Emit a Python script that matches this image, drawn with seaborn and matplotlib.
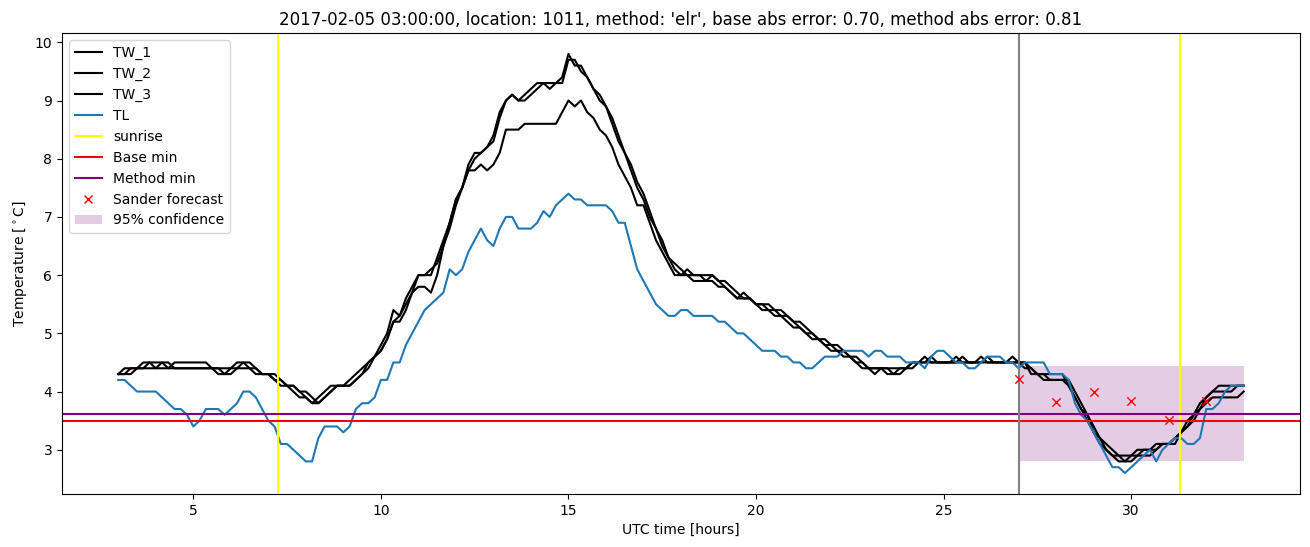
import numpy as np
import pandas as pd
import matplotlib
matplotlib.use("Agg")
import matplotlib.pyplot as plt
import seaborn as sns
from matplotlib.patches import Patch
from matplotlib.lines import Line2D

# ---------------- data ----------------
time_hours = np.linspace(3, 33, 181)   # 10-minute samples, UTC hours

TL = [
    4.2, 4.2, 4.1, 4.0, 4.0, 4.0,   # 3
    4.0, 3.9, 3.8, 3.7, 3.7, 3.6,   # 4
    3.4, 3.5, 3.7, 3.7, 3.7, 3.6,   # 5
    3.7, 3.8, 4.0, 4.0, 3.9, 3.7,   # 6
    3.5, 3.4, 3.1, 3.1, 3.0, 2.9,   # 7
    2.8, 2.8, 3.2, 3.4, 3.4, 3.4,   # 8
    3.3, 3.4, 3.7, 3.8, 3.8, 3.9,   # 9
    4.2, 4.2, 4.5, 4.5, 4.8, 5.0,   # 10
    5.2, 5.4, 5.5, 5.6, 5.7, 6.1,   # 11
    6.0, 6.1, 6.4, 6.6, 6.8, 6.6,   # 12
    6.5, 6.8, 7.0, 7.0, 6.8, 6.8,   # 13
    6.8, 6.9, 7.1, 7.0, 7.2, 7.3,   # 14
    7.4, 7.3, 7.3, 7.2, 7.2, 7.2,   # 15
    7.2, 7.1, 6.9, 6.9, 6.5, 6.1,   # 16
    5.9, 5.7, 5.5, 5.4, 5.3, 5.3,   # 17
    5.4, 5.4, 5.3, 5.3, 5.3, 5.3,   # 18
    5.2, 5.2, 5.1, 5.0, 5.0, 4.9,   # 19
    4.8, 4.7, 4.7, 4.7, 4.6, 4.6,   # 20
    4.5, 4.5, 4.4, 4.4, 4.5, 4.6,   # 21
    4.6, 4.6, 4.7, 4.7, 4.7, 4.7,   # 22
    4.6, 4.7, 4.7, 4.6, 4.6, 4.6,   # 23
    4.5, 4.5, 4.5, 4.4, 4.6, 4.7,   # 24
    4.7, 4.6, 4.5, 4.5, 4.4, 4.4,   # 25
    4.5, 4.6, 4.6, 4.6, 4.5, 4.5,   # 26
    4.4, 4.5, 4.5, 4.5, 4.5, 4.3,   # 27
    4.3, 4.3, 4.2, 3.8, 3.6, 3.5,   # 28
    3.3, 3.1, 2.9, 2.7, 2.7, 2.6,   # 29
    2.7, 2.8, 2.9, 3.0, 2.8, 3.0,   # 30
    3.1, 3.2, 3.2, 3.1, 3.1, 3.2,   # 31
    3.7, 3.7, 3.8, 4.0, 4.1, 4.1,   # 32
    4.1,
]

TW_1 = [
    4.3, 4.4, 4.4, 4.4, 4.5, 4.5,   # 3
    4.5, 4.5, 4.4, 4.5, 4.5, 4.5,   # 4
    4.5, 4.5, 4.5, 4.4, 4.4, 4.4,   # 5
    4.4, 4.5, 4.5, 4.4, 4.3, 4.3,   # 6
    4.3, 4.2, 4.1, 4.1, 4.0, 3.9,   # 7
    3.9, 3.8, 3.9, 4.0, 4.1, 4.1,   # 8
    4.1, 4.2, 4.3, 4.4, 4.5, 4.6,   # 9
    4.8, 5.0, 5.4, 5.3, 5.6, 5.8,   # 10
    6.0, 6.0, 6.0, 6.3, 6.6, 6.9,   # 11
    7.3, 7.5, 7.9, 8.1, 8.1, 8.2,   # 12
    8.4, 8.8, 9.0, 9.1, 9.0, 9.1,   # 13
    9.2, 9.3, 9.3, 9.3, 9.3, 9.4,   # 14
    9.8, 9.6, 9.6, 9.4, 9.2, 9.0,   # 15
    8.9, 8.6, 8.3, 8.1, 7.8, 7.5,   # 16
    7.3, 7.0, 6.8, 6.5, 6.3, 6.1,   # 17
    6.0, 6.1, 6.0, 6.0, 6.0, 6.0,   # 18
    5.9, 5.8, 5.7, 5.6, 5.6, 5.6,   # 19
    5.5, 5.5, 5.4, 5.4, 5.3, 5.3,   # 20
    5.2, 5.1, 5.0, 5.0, 4.9, 4.8,   # 21
    4.8, 4.7, 4.7, 4.6, 4.5, 4.5,   # 22
    4.4, 4.4, 4.4, 4.4, 4.4, 4.4,   # 23
    4.4, 4.5, 4.5, 4.5, 4.6, 4.5,   # 24
    4.5, 4.5, 4.6, 4.5, 4.5, 4.5,   # 25
    4.5, 4.6, 4.5, 4.5, 4.5, 4.6,   # 26
    4.5, 4.5, 4.4, 4.3, 4.3, 4.3,   # 27
    4.3, 4.3, 4.1, 3.9, 3.7, 3.5,   # 28
    3.3, 3.2, 3.0, 2.9, 2.9, 2.8,   # 29
    2.9, 3.0, 3.0, 3.0, 3.1, 3.1,   # 30
    3.1, 3.2, 3.3, 3.5, 3.6, 3.8,   # 31
    3.9, 4.0, 4.1, 4.1, 4.1, 4.1,   # 32
    4.1,
]

TW_2 = [
    4.3, 4.3, 4.4, 4.4, 4.4, 4.5,   # 3
    4.4, 4.5, 4.5, 4.4, 4.4, 4.4,   # 4
    4.4, 4.4, 4.4, 4.4, 4.3, 4.3,   # 5
    4.4, 4.4, 4.5, 4.5, 4.4, 4.3,   # 6
    4.3, 4.3, 4.2, 4.1, 4.1, 4.0,   # 7
    3.9, 3.8, 3.8, 3.9, 4.0, 4.1,   # 8
    4.1, 4.1, 4.2, 4.3, 4.4, 4.6,   # 9
    4.7, 4.9, 5.2, 5.3, 5.5, 5.7,   # 10
    6.0, 6.0, 6.1, 6.2, 6.5, 6.8,   # 11
    7.2, 7.5, 7.8, 8.0, 8.1, 8.2,   # 12
    8.3, 8.7, 9.0, 9.1, 9.0, 9.0,   # 13
    9.1, 9.2, 9.3, 9.2, 9.3, 9.3,   # 14
    9.7, 9.7, 9.5, 9.4, 9.2, 9.1,   # 15
    8.9, 8.7, 8.4, 8.1, 7.9, 7.6,   # 16
    7.4, 7.1, 6.8, 6.6, 6.3, 6.2,   # 17
    6.1, 6.0, 6.0, 6.0, 5.9, 6.0,   # 18
    5.9, 5.9, 5.8, 5.7, 5.6, 5.6,   # 19
    5.5, 5.5, 5.5, 5.4, 5.4, 5.3,   # 20
    5.2, 5.2, 5.1, 5.0, 4.9, 4.9,   # 21
    4.8, 4.8, 4.7, 4.6, 4.6, 4.5,   # 22
    4.4, 4.3, 4.4, 4.4, 4.3, 4.3,   # 23
    4.4, 4.4, 4.5, 4.6, 4.5, 4.5,   # 24
    4.5, 4.5, 4.5, 4.6, 4.5, 4.5,   # 25
    4.6, 4.5, 4.5, 4.5, 4.5, 4.5,   # 26
    4.5, 4.4, 4.4, 4.3, 4.2, 4.2,   # 27
    4.2, 4.2, 4.2, 4.0, 3.8, 3.6,   # 28
    3.4, 3.2, 3.1, 3.0, 2.9, 2.9,   # 29
    2.9, 2.9, 3.0, 3.0, 3.0, 3.1,   # 30
    3.1, 3.2, 3.3, 3.4, 3.6, 3.7,   # 31
    3.9, 4.0, 4.0, 4.0, 4.0, 4.1,   # 32
    4.1,
]

TW_3 = [
    4.3, 4.3, 4.3, 4.4, 4.4, 4.4,   # 3
    4.4, 4.4, 4.4, 4.4, 4.4, 4.4,   # 4
    4.4, 4.4, 4.4, 4.4, 4.4, 4.3,   # 5
    4.3, 4.4, 4.4, 4.4, 4.4, 4.3,   # 6
    4.3, 4.2, 4.2, 4.1, 4.1, 4.0,   # 7
    4.0, 3.9, 3.8, 3.9, 4.0, 4.1,   # 8
    4.1, 4.1, 4.2, 4.3, 4.5, 4.6,   # 9
    4.7, 4.9, 5.2, 5.2, 5.4, 5.7,   # 10
    5.8, 5.8, 5.7, 6.0, 6.5, 6.9,   # 11
    7.3, 7.5, 7.8, 7.8, 7.9, 7.8,   # 12
    7.9, 8.1, 8.5, 8.5, 8.5, 8.6,   # 13
    8.6, 8.6, 8.6, 8.6, 8.6, 8.8,   # 14
    9.0, 8.9, 9.0, 8.8, 8.7, 8.5,   # 15
    8.4, 8.2, 7.9, 7.7, 7.5, 7.2,   # 16
    7.2, 6.9, 6.6, 6.4, 6.2, 6.0,   # 17
    6.0, 6.0, 5.9, 5.9, 5.9, 5.9,   # 18
    5.8, 5.8, 5.7, 5.6, 5.7, 5.6,   # 19
    5.5, 5.4, 5.4, 5.3, 5.3, 5.2,   # 20
    5.1, 5.1, 5.0, 4.9, 4.9, 4.8,   # 21
    4.7, 4.7, 4.6, 4.6, 4.5, 4.4,   # 22
    4.4, 4.4, 4.4, 4.3, 4.3, 4.4,   # 23
    4.4, 4.5, 4.5, 4.5, 4.5, 4.5,   # 24
    4.5, 4.5, 4.5, 4.5, 4.5, 4.5,   # 25
    4.5, 4.5, 4.5, 4.5, 4.5, 4.5,   # 26
    4.5, 4.5, 4.3, 4.3, 4.3, 4.2,   # 27
    4.2, 4.2, 4.1, 3.9, 3.7, 3.6,   # 28
    3.3, 3.1, 3.0, 2.9, 2.8, 2.8,   # 29
    2.8, 2.9, 2.9, 2.9, 3.0, 3.1,   # 30
    3.1, 3.1, 3.3, 3.4, 3.5, 3.7,   # 31
    3.8, 3.9, 3.9, 3.9, 3.9, 3.9,   # 32
    4.0,
]

sunrise_hours = [7.25, 31.30]
forecast_hour = 27.0
base_min = 3.50
method_min = 3.61
sander_hours = [27, 28, 29, 30, 31, 32]
sander_values = [4.21, 3.82, 3.99, 3.84, 3.51, 3.84]
conf_hours = [27, 33]
conf_lower = [2.80, 2.80]
conf_upper = [4.44, 4.44]

title = ("2017-02-05 03:00:00, location: 1011, method: 'elr', "
         "base abs error: 0.70, method abs error: 0.81")

# ---------------- plot ----------------
df = pd.DataFrame({"t": time_hours, "TW_1": TW_1, "TW_2": TW_2,
                   "TW_3": TW_3, "TL": TL})

fig = plt.figure(figsize=(13.1, 5.47), dpi=100)
ax = fig.add_axes([62 / 1310, 1 - 494 / 547, 1238 / 1310, (494 - 33) / 547])

handles, labels = [], []
for name in ["TW_1", "TW_2", "TW_3"]:
    sns.lineplot(data=df, x="t", y=name, color="black", linewidth=1.5,
                 estimator=None, sort=False, ax=ax)
    handles.append(Line2D([], [], color="black", lw=1.5)); labels.append(name)
sns.lineplot(data=df, x="t", y="TL", color="#1f77b4", linewidth=1.5,
             estimator=None, sort=False, ax=ax)
handles.append(Line2D([], [], color="#1f77b4", lw=1.5)); labels.append("TL")

for h in sunrise_hours:
    ax.axvline(h, color="yellow", linewidth=1.5)
handles.append(Line2D([], [], color="yellow", lw=1.5)); labels.append("sunrise")

ax.axhline(base_min, color="red", linewidth=1.5)
handles.append(Line2D([], [], color="red", lw=1.5)); labels.append("Base min")
ax.axhline(method_min, color="purple", linewidth=1.5)
handles.append(Line2D([], [], color="purple", lw=1.5)); labels.append("Method min")

ax.axvline(forecast_hour, color="gray", linewidth=1.5)

sns.scatterplot(x=sander_hours, y=sander_values, marker="x", color="red",
                s=36, linewidth=1.0, ax=ax, zorder=3)
handles.append(Line2D([], [], color="red", marker="x", linestyle="none",
                      markersize=6, markeredgewidth=1.0))
labels.append("Sander forecast")

ax.fill_between(conf_hours, conf_lower, conf_upper, color="purple",
                alpha=0.2, linewidth=0, zorder=0.5)
handles.append(Patch(facecolor="purple", alpha=0.2, edgecolor="none"))
labels.append("95% confidence")

ax.set_xlim(1.5, 34.5)
ax.set_ylim(2.24, 10.16)
ax.set_xlabel("UTC time [hours]")
ax.set_ylabel(r"Temperature [$^\circ$C]")
ax.set_title(title, fontsize=12)
ax.legend(handles, labels, loc="upper left")

fig.savefig("out.png", dpi=100)
